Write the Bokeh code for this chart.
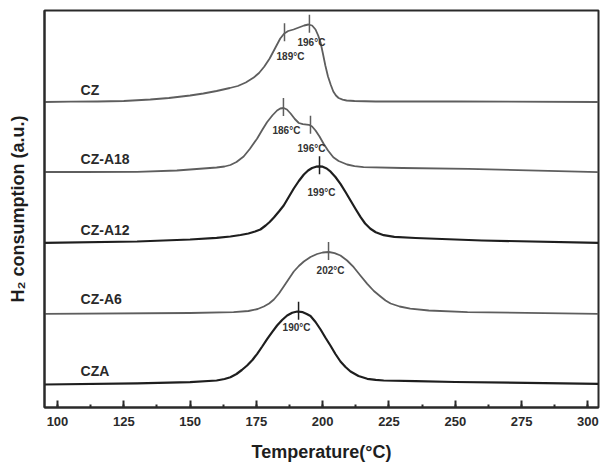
import numpy as np
from bokeh.plotting import figure
from bokeh.models import Range1d, SingleIntervalTicker, FixedTicker, ColumnDataSource
from bokeh.core.properties import value
from bokeh.embed import file_html
from bokeh.resources import INLINE

# ---- data (H2 consumption, a.u.) ----
cz_t = [95, 105, 115, 125, 135, 142, 150, 155, 160, 165, 168, 171, 174, 176, 178, 180, 182, 184,
        185.5, 187, 189, 191, 193, 194.6, 196, 197.3, 198.3, 199.2, 200, 201, 202, 203, 204, 205,
        206, 207.5, 209, 212, 220, 250, 304]
cz_v = [305.5, 305.8, 306, 306.5, 308, 309.5, 312, 314, 316.5, 319.5, 321.5, 325, 330, 334.5, 341,
        349, 359, 369, 374, 376.5, 378, 380, 382, 383, 382, 378, 372, 365, 355, 342, 331, 323, 316,
        312, 309.5, 307.8, 307, 306.5, 306, 306, 305.5]

a18_t = [95, 110, 130, 145, 155, 160, 163, 165.2, 167.5, 170.2, 172.5, 175.3, 177.3, 179, 181, 182.8,
         184, 185.3, 186.5, 187.9, 189.5, 191, 192.5, 194.8, 196, 197.3, 198.8, 200.3, 202, 204, 206,
         209.2, 212, 215.4, 230, 255, 304]
a18_v = [235.5, 235.5, 235.7, 237, 239, 240, 241, 242.5, 245.5, 251, 258.5, 269, 278, 285.3, 292, 297,
         299, 299.5, 298, 294, 288.5, 284.5, 283.3, 282.7, 281, 277, 271, 264, 257, 250.3, 246.5,
         243, 241.3, 240.3, 239.5, 238.7, 235.3]

a12_t = [95, 130, 150, 160, 165.2, 169, 172, 174.5, 176.5, 178.5, 180, 181.6, 183.5, 185.3, 187.2,
         189.1, 191, 192.9, 194.5, 196, 197.5, 198.8, 200, 201.5, 203, 204.8, 206.7, 208.6, 210.5,
         212.4, 214.3, 216, 218, 220, 223, 227, 235, 260, 304]
a12_v = [164.7, 166, 168, 169.7, 171, 172.5, 174, 176, 178, 182, 185.5, 190, 196, 202, 210.5, 219,
         226.5, 233, 237, 239.5, 240.8, 241.2, 240.8, 239, 235.8, 230.5, 223.7, 215.5, 207, 198.5,
         190.3, 184, 178.7, 175.3, 172.3, 170.7, 169.5, 167, 164.7]

a6_t = [95, 150, 166.4, 172, 175.5, 177.8, 179.8, 181.6, 183.5, 185.3, 187.2, 189.1, 191, 192.9,
        195.4, 197.9, 200, 202.3, 204.5, 206.7, 209.2, 211.7, 214.2, 216.8, 219.3, 221.8, 223.7,
        225.6, 229, 233, 240, 254.6, 304]
a6_v = [93.7, 94.5, 95.3, 96.5, 98.5, 101, 104, 108, 114, 121, 128.5, 136, 141.5, 146, 150.5, 153.5,
        155, 155.5, 154.3, 152, 147, 140.3, 132, 123.7, 116.5, 111, 107, 104, 101, 98.8, 97, 95.3, 93.7]

cza_t = [95, 130, 150, 160, 163, 165.2, 167.5, 169.5, 171.5, 173.5, 175.3, 177.2, 179.1, 181, 182.8,
         184.7, 186.6, 188.5, 190.4, 192.5, 194, 195.4, 197.3, 199.2, 201, 202.9, 204.8, 206.7, 208.6,
         210.5, 213.5, 216.8, 220, 223, 235, 250, 304]
cza_v = [23, 24.2, 25.3, 27, 28.5, 30.3, 33.5, 37.5, 42, 47.5, 53.7, 61, 68.7, 75.7, 82, 87.5, 92,
         94.8, 96, 95.3, 93.5, 91.5, 85.5, 78, 70, 62, 53.5, 46, 40.5, 36, 31.5, 28.7, 27.6, 27, 26.3,
         25.5, 23.7]

names = ["CZ", "CZ-A18", "CZ-A12", "CZ-A6", "CZA"]
name_y = [318, 249, 178, 109, 37]

# peak markers: series index, marker temperature, label text
peak_series = [0, 0, 1, 1, 2, 3, 4]
peak_t = [185.6, 195.0, 185.2, 195.4, 198.8, 202.2, 190.9]
peak_labels = ["189°C", "196°C", "186°C", "196°C", "199°C", "202°C", "190°C"]
label_dx = [6, 2, 3, 1, 2, 2, -2]
label_dy = [23, 18, 22, 23, 26, 18, 16]

x_ticks_step = 25

series = [(cz_t, cz_v), (a18_t, a18_v), (a12_t, a12_v), (a6_t, a6_v), (cza_t, cza_v)]
colors = ["#5e5e5e", "#5e5e5e", "#1e1e1e", "#5e5e5e", "#1e1e1e"]
widths = [1.8, 1.8, 2.2, 1.8, 2.2]

FONT = "Liberation Sans"

p = figure(width=601, height=465, output_backend="svg", toolbar_location=None,
           x_range=Range1d(95.1, 304.0), y_range=Range1d(0, 397),
           min_border_left=44, min_border_right=3, min_border_top=10, min_border_bottom=58)
p.grid.visible = False
p.outline_line_color = "#2a2a2a"
p.outline_line_width = 2
p.background_fill_color = "white"
p.border_fill_color = "white"

for (t, v), c, w in zip(series, colors, widths):
    p.line(t, v, line_color=c, line_width=w, line_join="round")

# series names
p.text(x=[108.7] * len(names), y=name_y, text=names, text_font=value(FONT),
       text_font_style="bold", text_font_size="14px", text_color="#2a2a2a",
       text_baseline="middle", text_align="left")

# peak markers and labels
mx, y0, y1, mc, ly = [], [], [], [], []
for si, pt in zip(peak_series, peak_t):
    t, v = series[si]
    h = float(np.interp(pt, t, v))
    mx.append(pt)
    ly.append(h)
    y0.append(h - 8)
    y1.append(h + 10)
    mc.append(colors[si])
p.segment(x0=mx, y0=y0, x1=mx, y1=y1, line_color=mc, line_width=1.5)

src = ColumnDataSource(dict(x=mx, y=ly, text=peak_labels, dx=label_dx, dy=label_dy))
p.text(x="x", y="y", text="text", x_offset="dx", y_offset="dy", source=src,
       text_font=value(FONT), text_font_style="bold", text_font_size="10px",
       text_color="#333333", text_align="center", text_baseline="middle")

# axes
p.xaxis.ticker = SingleIntervalTicker(interval=x_ticks_step, num_minor_ticks=2)
p.xaxis.axis_label = "Temperature(°C)"
p.xaxis.axis_label_text_font = FONT
p.xaxis.axis_label_text_font_style = "bold"
p.xaxis.axis_label_text_font_size = "18px"
p.xaxis.axis_label_text_color = "#1e1e1e"
p.xaxis.axis_label_standoff = 13
p.xaxis.major_label_text_font = FONT
p.xaxis.major_label_text_font_style = "bold"
p.xaxis.major_label_text_font_size = "13px"
p.xaxis.major_label_text_color = "#2a2a2a"
p.xaxis.major_label_standoff = 9
p.xaxis.major_tick_in = 7
p.xaxis.major_tick_out = 0
p.xaxis.minor_tick_in = 3
p.xaxis.minor_tick_out = 0
p.xaxis.axis_line_width = 2
p.xaxis.axis_line_color = "#2a2a2a"
p.xaxis.major_tick_line_width = 2
p.xaxis.major_tick_line_color = "#2a2a2a"
p.xaxis.minor_tick_line_width = 2
p.xaxis.minor_tick_line_color = "#2a2a2a"

p.yaxis.ticker = FixedTicker(ticks=[])
p.yaxis.axis_label = "H₂ consumption (a.u.)"
p.yaxis.axis_label_text_font = FONT
p.yaxis.axis_label_text_font_style = "bold"
p.yaxis.axis_label_text_font_size = "18px"
p.yaxis.axis_label_text_color = "#1e1e1e"
p.yaxis.major_tick_line_color = None
p.yaxis.minor_tick_line_color = None
p.yaxis.axis_line_width = 2
p.yaxis.axis_line_color = "#2a2a2a"
p.yaxis.axis_label_standoff = 17

open("out.html", "w").write(file_html(p, INLINE))
